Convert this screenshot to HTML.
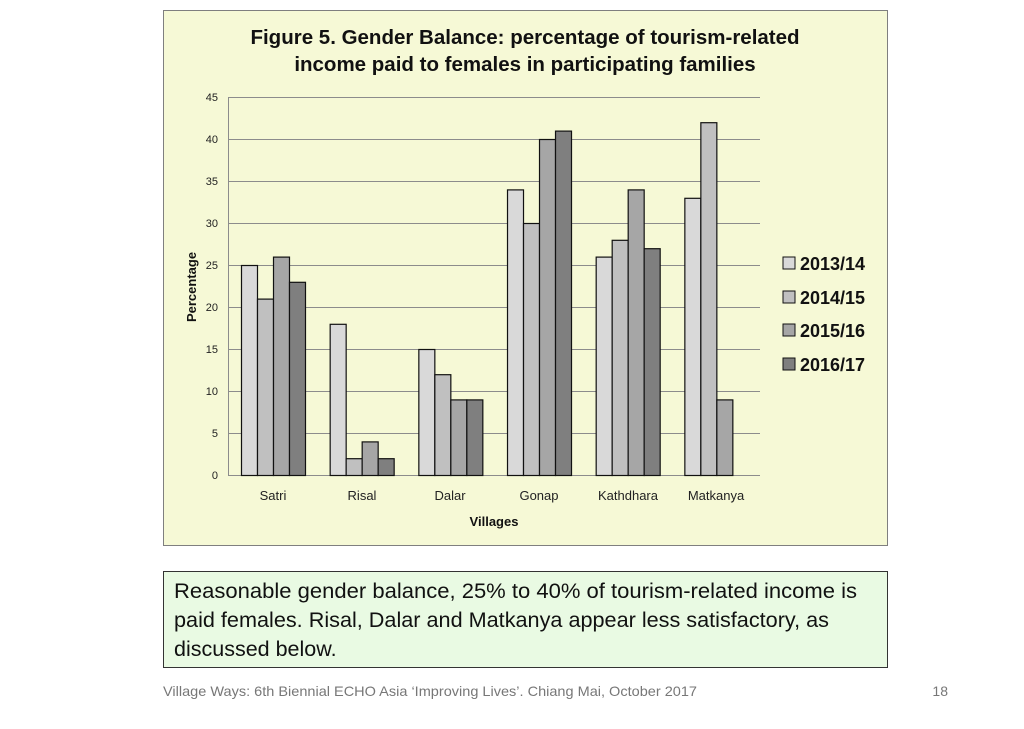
<!DOCTYPE html>
<html><head><meta charset="utf-8"><style>
body{margin:0;width:1024px;height:724px;background:#fff;overflow:hidden;font-family:"Liberation Sans",sans-serif}
</style></head><body>
<svg width="1024" height="724" xmlns="http://www.w3.org/2000/svg" font-family="Liberation Sans, sans-serif">
<rect x="163.5" y="10.5" width="724" height="535" fill="#f6f9d6" stroke="#7f7f7f" stroke-width="1"/>
<text x="525" y="44" text-anchor="middle" font-size="20.5" font-weight="bold" fill="#111">Figure 5. Gender Balance: percentage of tourism-related</text>
<text x="525" y="71" text-anchor="middle" font-size="20.5" font-weight="bold" fill="#111">income paid to females in participating families</text>
<g stroke="#8c8c8c" stroke-width="1">
<line x1="228" y1="97.5" x2="760" y2="97.5"/><line x1="228" y1="139.5" x2="760" y2="139.5"/>
<line x1="228" y1="181.5" x2="760" y2="181.5"/><line x1="228" y1="223.5" x2="760" y2="223.5"/>
<line x1="228" y1="265.5" x2="760" y2="265.5"/><line x1="228" y1="307.5" x2="760" y2="307.5"/>
<line x1="228" y1="349.5" x2="760" y2="349.5"/><line x1="228" y1="391.5" x2="760" y2="391.5"/>
<line x1="228" y1="433.5" x2="760" y2="433.5"/><line x1="228" y1="475.5" x2="760" y2="475.5"/>
<line x1="228.5" y1="97" x2="228.5" y2="476"/>
</g>
<g font-size="11" fill="#222" text-anchor="end">
<text x="218" y="101">45</text><text x="218" y="143">40</text><text x="218" y="185">35</text>
<text x="218" y="227">30</text><text x="218" y="269">25</text><text x="218" y="311">20</text>
<text x="218" y="353">15</text><text x="218" y="395">10</text><text x="218" y="437">5</text><text x="218" y="479">0</text>
</g>
<text transform="translate(196,287) rotate(-90)" text-anchor="middle" font-size="13" font-weight="bold" fill="#111">Percentage</text>
<g stroke="#111" stroke-width="1.2" id="bars"></g>
<g font-size="13" fill="#222" text-anchor="middle">
<text x="273" y="500">Satri</text><text x="362" y="500">Risal</text><text x="450" y="500">Dalar</text>
<text x="539" y="500">Gonap</text><text x="628" y="500">Kathdhara</text><text x="716" y="500">Matkanya</text>
</g>
<text x="494" y="526" text-anchor="middle" font-size="13" font-weight="bold" fill="#111">Villages</text>
<g stroke="#111" stroke-width="1">
<rect x="783" y="257" width="12" height="12" fill="#d9d9d9"/>
<rect x="783" y="291" width="12" height="12" fill="#c0c0c0"/>
<rect x="783" y="324" width="12" height="12" fill="#a6a6a6"/>
<rect x="783" y="358" width="12" height="12" fill="#7f7f7f"/>
</g>
<g font-size="18" font-weight="bold" fill="#111">
<text x="800" y="270">2013/14</text><text x="800" y="304">2014/15</text>
<text x="800" y="337">2015/16</text><text x="800" y="371">2016/17</text>
</g>
<rect x="163.5" y="571.5" width="724" height="96" fill="#e9fae3" stroke="#333" stroke-width="1"/>
<g font-size="21.5" fill="#111">
<text x="174" y="598" textLength="683" lengthAdjust="spacingAndGlyphs">Reasonable gender balance, 25% to 40% of tourism-related income is</text>
<text x="174" y="627" textLength="655" lengthAdjust="spacingAndGlyphs">paid females. Risal, Dalar and Matkanya appear less satisfactory, as</text>
<text x="174" y="656">discussed below.</text>
</g>
<text x="163" y="696" font-size="14" fill="#777" textLength="534" lengthAdjust="spacingAndGlyphs">Village Ways: 6th Biennial ECHO Asia ‘Improving Lives’. Chiang Mai, October 2017</text>
<text x="948" y="696" font-size="14" fill="#777" text-anchor="end">18</text>
</svg>
<script>
var d=[[25,21,26,23],[18,2,4,2],[15,12,9,9],[34,30,40,41],[26,28,34,27],[33,42,9,0]];
var c=["#d9d9d9","#c0c0c0","#a6a6a6","#7f7f7f"],g=document.getElementById("bars"),s="";
for(var i=0;i<6;i++)for(var j=0;j<4;j++){var v=d[i][j];if(!v)continue;var x=241.5+i*88.67+j*16,h=v*8.4;
s+='<rect x="'+x+'" y="'+(475.5-h)+'" width="16" height="'+h+'" fill="'+c[j]+'"/>';}
g.innerHTML=s;
</script>
</body></html>
